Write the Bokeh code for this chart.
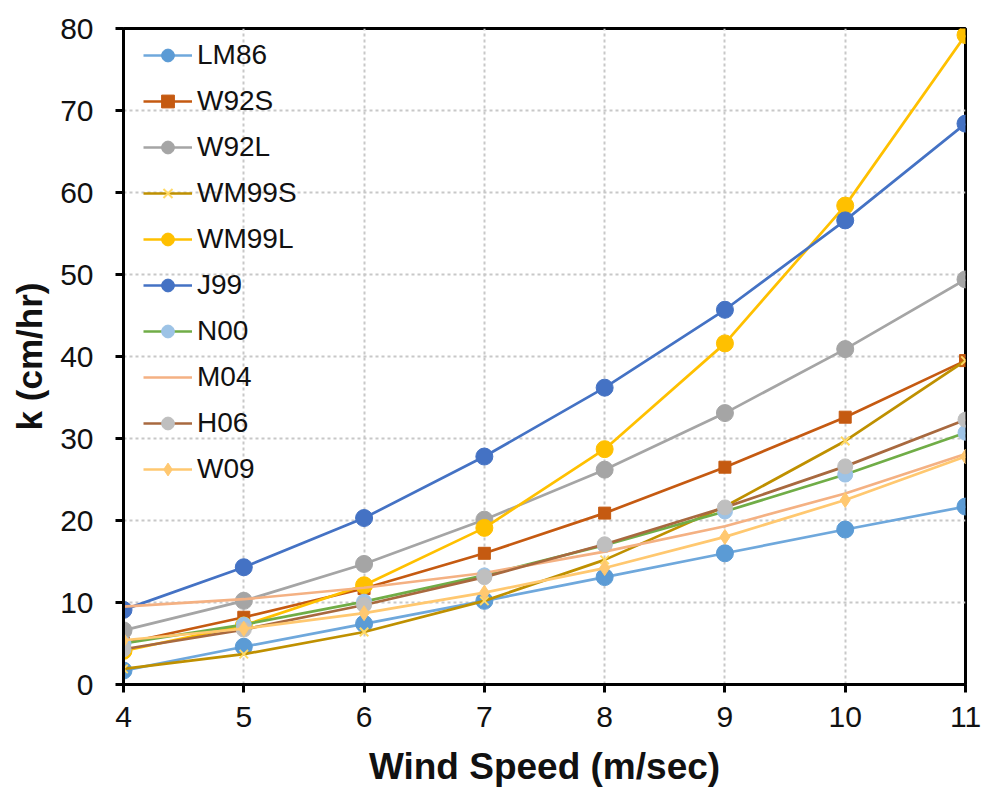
from bokeh.plotting import figure
from bokeh.models import Legend, LegendItem, Range1d, FixedTicker
from bokeh.embed import file_html
from bokeh.resources import INLINE

wind = [4, 5, 6, 7, 8, 9, 10, 11]
y_ticks = [0, 10, 20, 30, 40, 50, 60, 70, 80]

lm86 = [1.7, 4.6, 7.4, 10.2, 13.1, 16.0, 18.9, 21.7]
w92s = [5.0, 8.2, 11.7, 16.0, 20.9, 26.5, 32.6, 39.5]
w92l = [6.6, 10.2, 14.7, 20.1, 26.2, 33.1, 40.9, 49.4]
wm99s = [1.9, 3.7, 6.4, 10.2, 15.2, 21.7, 29.7, 39.5]
wm99l = [4.1, 7.2, 12.1, 19.1, 28.7, 41.6, 58.4, 79.2]
j99 = [9.1, 14.3, 20.3, 27.8, 36.2, 45.7, 56.6, 68.4]
n00 = [5.0, 7.3, 10.1, 13.3, 17.0, 21.1, 25.6, 30.7]
m04 = [9.5, 10.4, 11.8, 13.6, 16.2, 19.3, 23.3, 28.1]
h06 = [4.3, 6.7, 9.7, 13.1, 17.1, 21.6, 26.6, 32.3]
w09 = [5.4, 6.8, 8.7, 11.2, 14.2, 18.0, 22.5, 27.8]

FONT = "Liberation Sans"

p = figure(width=987, height=798, output_backend="svg", toolbar_location=None,
           x_range=Range1d(4, 11), y_range=Range1d(0, 80),
           min_border_left=123, min_border_right=22, min_border_top=28,
           min_border_bottom=114, background_fill_color="white",
           border_fill_color="white")

# series: (name, values, line color, marker, marker fill, marker line, size)
series = [
    ("LM86", lm86, "#6FA8DC", "circle", "#5B9BD5", "#5B9BD5", 17),
    ("W92S", w92s, "#C55A11", "square", "#C55A11", "#C55A11", 12),
    ("W92L", w92l, "#A5A5A5", "circle", "#A5A5A5", "#A5A5A5", 17),
    ("WM99S", wm99s, "#BF9000", "x", None, "#FFD966", 12),
    ("WM99L", wm99l, "#FFC000", "circle", "#FFC000", "#FFC000", 17),
    ("J99", j99, "#4472C4", "circle", "#4472C4", "#4472C4", 17),
    ("N00", n00, "#70AD47", "circle", "#9DC3E6", "#9DC3E6", 15),
    ("M04", m04, "#F4B183", None, None, None, 0),
    ("H06", h06, "#A8693F", "circle", "#BFBFBF", "#BFBFBF", 15),
    ("W09", w09, "#FFC870", "diamond", "#FFC870", "#FFC870", 15),
]

items = []
for name, vals, lc, mk, mf, ml, sz in series:
    rs = []
    r = p.line(wind, vals, line_color=lc, line_width=2.7)
    rs.append(r)
    if mk is not None:
        if mk == "x":
            m = p.scatter(wind, vals, marker="x", size=sz, line_color=ml,
                          line_width=2)
        else:
            m = p.scatter(wind, vals, marker=mk, size=sz, fill_color=mf,
                          line_color=ml, line_width=1)
        rs.append(m)
    items.append(LegendItem(label=name, renderers=rs))

legend = Legend(items=items, location=(20, 199), glyph_width=49,
                glyph_height=32, label_height=32, spacing=14, padding=10,
                label_standoff=5, label_text_font=FONT,
                label_text_font_size="28px", label_text_color="#111111",
                border_line_color=None, background_fill_alpha=0)
p.add_layout(legend)

p.xaxis.ticker = FixedTicker(ticks=wind)
p.yaxis.ticker = FixedTicker(ticks=y_ticks)

for ax in (p.xaxis, p.yaxis):
    ax.axis_line_width = 3
    ax.axis_line_color = "black"
    ax.major_tick_line_width = 3
    ax.major_tick_line_color = "black"
    ax.major_tick_in = 0
    ax.major_tick_out = 8
    ax.minor_tick_line_color = None
    ax.major_label_text_font = FONT
    ax.major_label_text_font_size = "30px"
    ax.major_label_text_color = "#111111"
    ax.axis_label_text_font = FONT
    ax.axis_label_text_font_style = "bold"
    ax.axis_label_text_color = "#111111"

p.xaxis.axis_label = "Wind Speed (m/sec)"
p.yaxis.axis_label = "k (cm/hr)"
p.xaxis.axis_label_text_font_size = "37px"
p.yaxis.axis_label_text_font_size = "35px"
p.xaxis.major_label_standoff = 14
p.yaxis.major_label_standoff = 22
p.xaxis.axis_label_standoff = 16
p.yaxis.axis_label_standoff = 8

p.outline_line_color = "black"
p.outline_line_width = 3
p.outline_line_alpha = 1

p.grid.grid_line_color = "#C8C8C8"
p.grid.grid_line_width = 2
p.grid.grid_line_dash = "3 3"

open("out.html", "w").write(file_html(p, INLINE))
